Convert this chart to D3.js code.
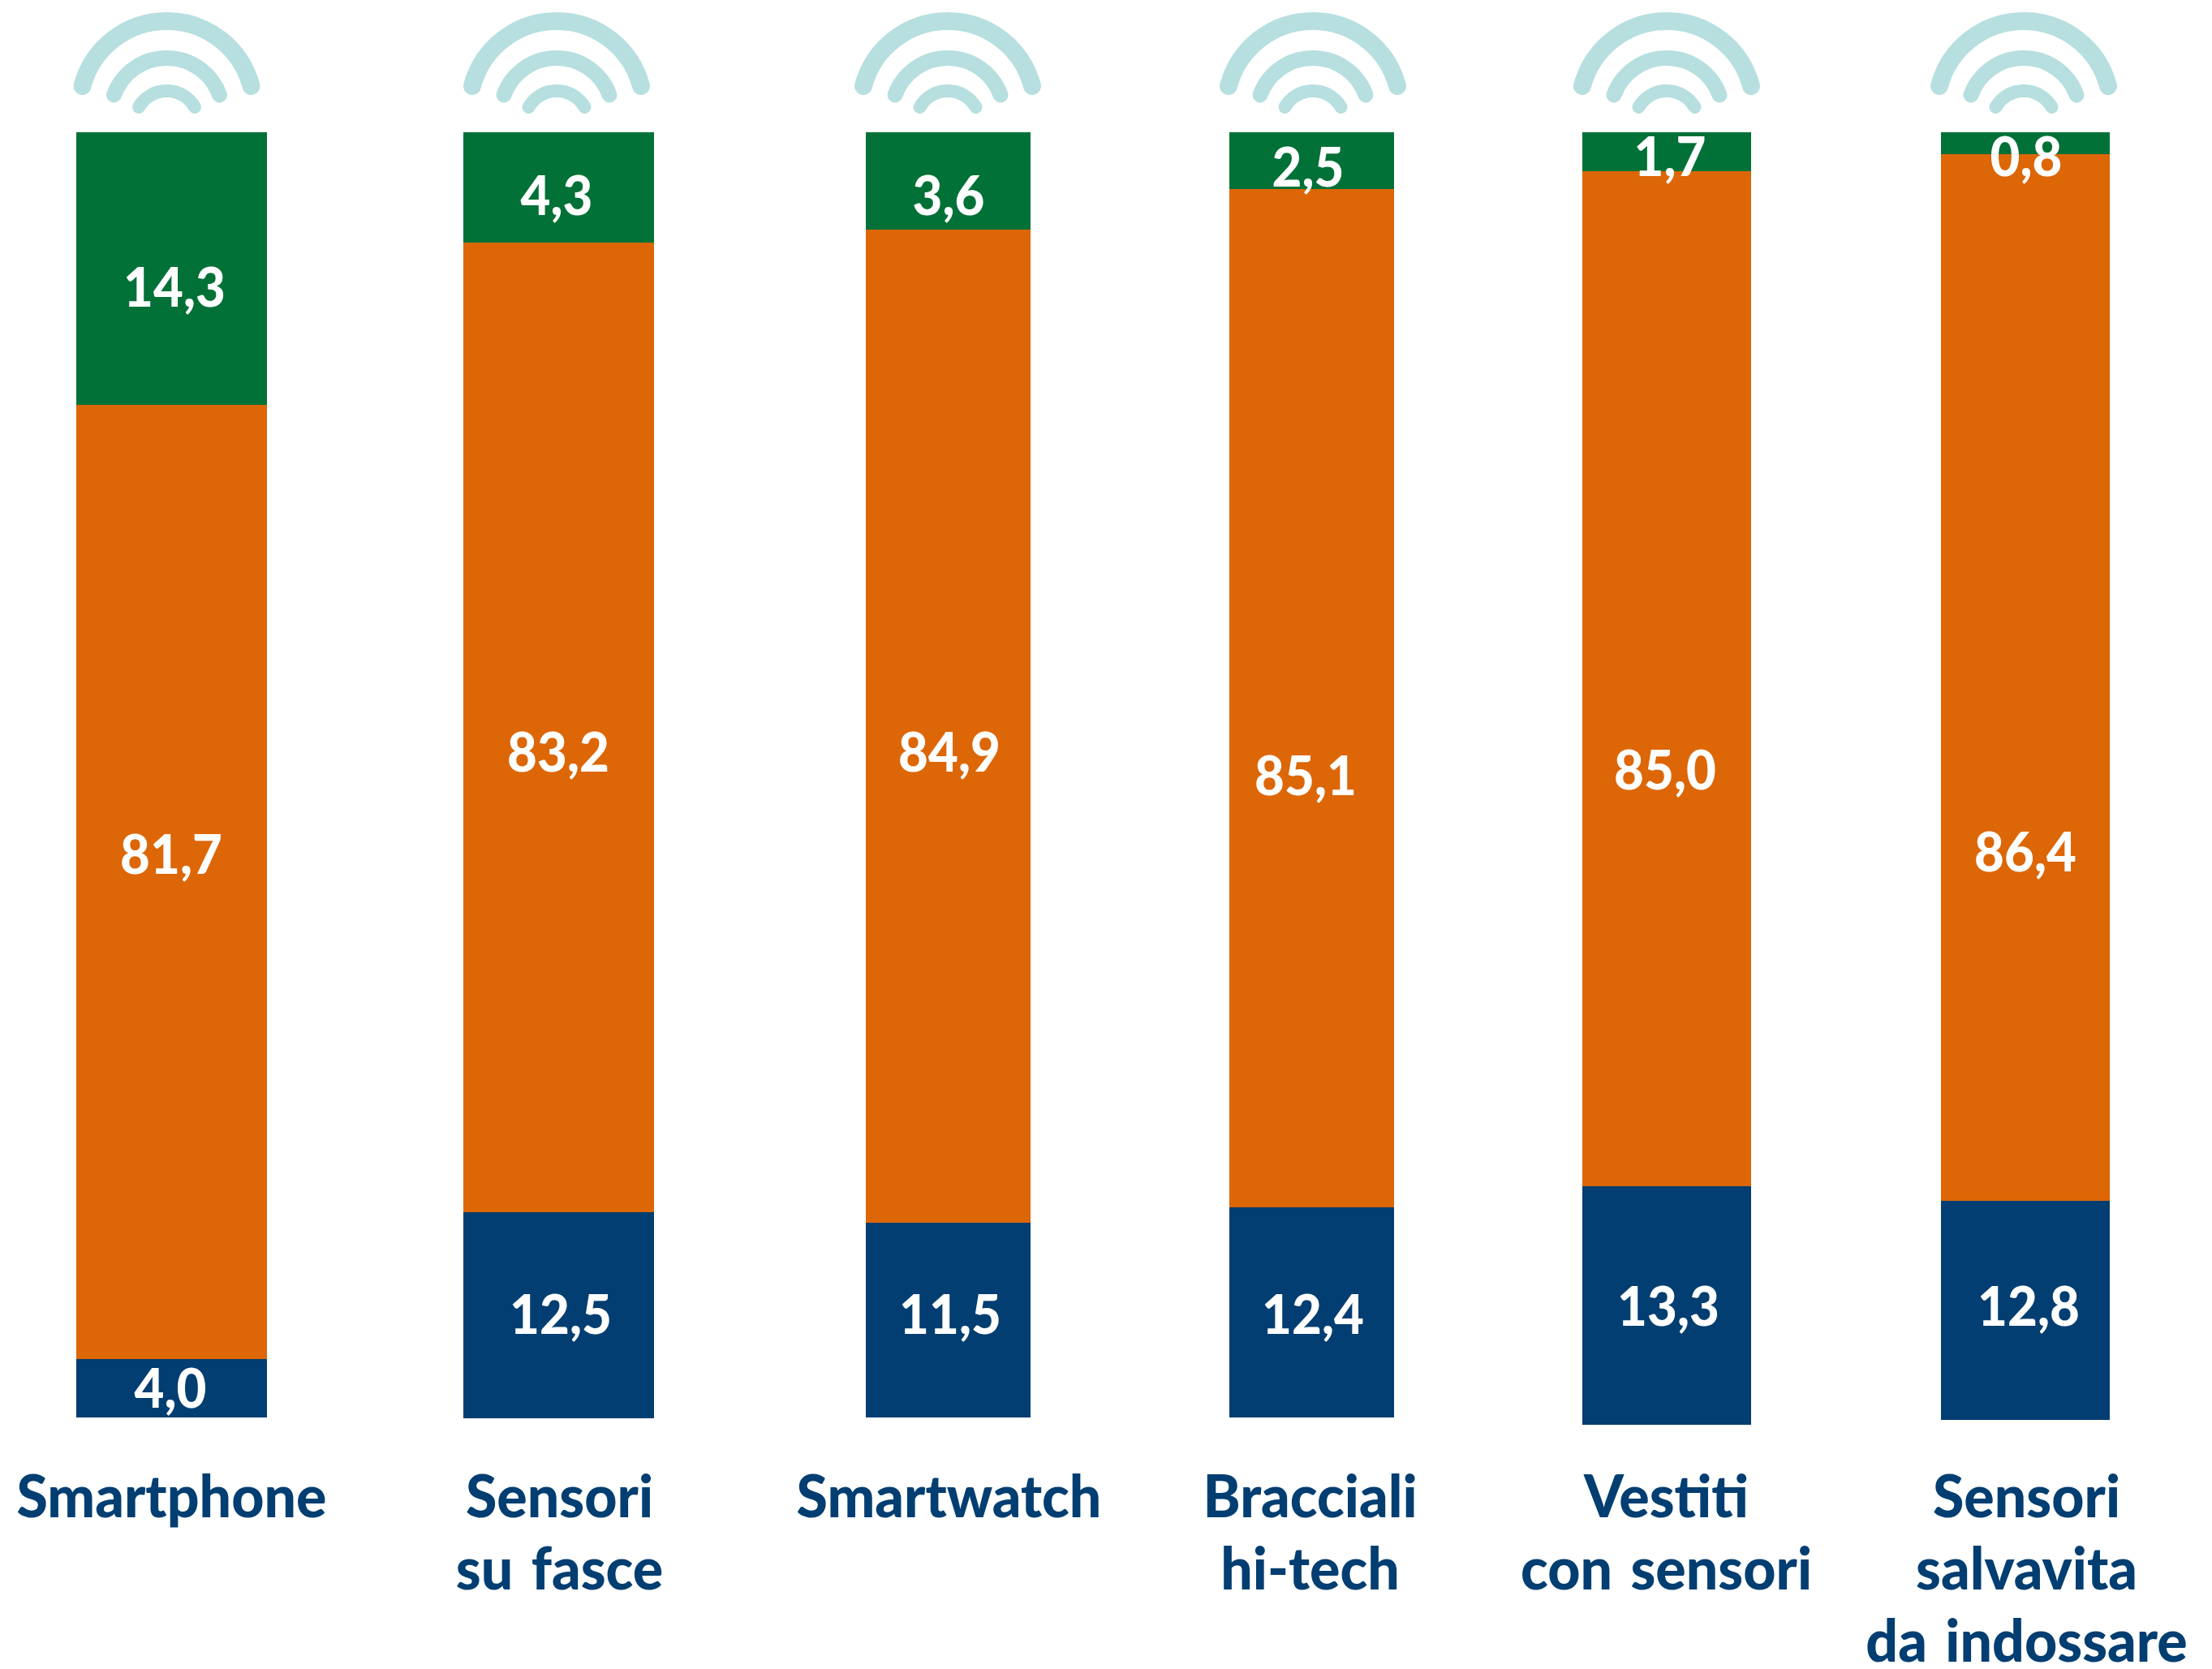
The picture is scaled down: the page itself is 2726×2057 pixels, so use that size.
<!DOCTYPE html>
<html>
<head>
<meta charset="utf-8">
<title>Dispositivi indossabili</title>
<script src="https://cdn.jsdelivr.net/npm/d3@7"></script>
<style>
  html, body { margin: 0; padding: 0; background: #fff; }
  svg { display: block; }
  text { font-family: Lato, "Open Sans", sans-serif; font-weight: 900; }
</style>
</head>
<body>
<div id="chart"></div>
<script>
const categories = ["Smartphone", "Sensori su fasce", "Smartwatch", "Bracciali hi-tech", "Vestiti con sensori", "Sensori salvavita da indossare"];
const categoryLines = [["Smartphone"], ["Sensori", "su fasce"], ["Smartwatch"], ["Bracciali", "hi-tech"], ["Vestiti", "con sensori"], ["Sensori", "salvavita", "da indossare"]];

// printed values, top segment to bottom segment
const greenValues = [14.3, 4.3, 3.6, 2.5, 1.7, 0.8];
const orangeValues = [81.7, 83.2, 84.9, 85.1, 85.0, 86.4];
const blueValues = [4.0, 12.5, 11.5, 12.4, 13.3, 12.8];

// the reference does not draw its segments to scale: these are the lengths
// actually drawn, read off the picture as a share of the first bar
const greenDrawn = [21.21, 8.59, 7.58, 4.42, 3.03, 1.70];
const orangeDrawn = [74.24, 75.44, 77.27, 79.23, 78.98, 81.44];
const blueDrawn = [4.55, 16.04, 15.15, 16.35, 18.56, 17.05];

// layout
const width = 2726;
const height = 2057;
const barTop = 163;
const unitBarBottom = 1747;
const barLefts = [94, 571, 1067, 1515, 1950, 2392];
const barWidths = [235, 235, 203, 203, 208, 208];
const iconCenters = [205.5, 686, 1168, 1618, 2054, 2494];
const titleCenters = [211, 689, 1169, 1614, 2053, 2497];
const titleBaseline = 1870;
const titleLeading = 89;

const labelX = {
    green: [215, 686, 1169, 1612, 2058, 2497],
    orange: [211, 688, 1170, 1609, 2052, 2496],
    blue: [210, 691, 1171, 1618, 2056, 2500],
};
const labelY = {
    green: [378, 265, 265, 230, 217, 217],
    orange: [1077, 951, 951, 980, 973, 1074],
    blue: [1735, 1644, 1644, 1644, 1634, 1634],
};

const colors = { green: "#027137", orange: "#DD6607", blue: "#023E71" };
const iconColor = "#B7DFDF";
const formatValue = v => d3.format(".1f")(v).replace(".", ",");

const printed = { green: greenValues, orange: orangeValues, blue: blueValues };

const rows = categories.map((c, i) => ({
    category: c,
    green: greenDrawn[i],
    orange: orangeDrawn[i],
    blue: blueDrawn[i],
}));

const svg = d3.select("#chart").append("svg")
    .attr("width", width)
    .attr("height", height)
    .attr("viewBox", `0 0 ${width} ${height}`);

const x = d3.scaleOrdinal().domain(categories).range(barLefts);
const barWidth = d3.scaleOrdinal().domain(categories).range(barWidths);
const iconX = d3.scaleOrdinal().domain(categories).range(iconCenters);
const titleX = d3.scaleOrdinal().domain(categories).range(titleCenters);

// stack runs downward from the common top edge
const y = d3.scaleLinear().domain([0, 100]).range([barTop, unitBarBottom]);

const series = d3.stack().keys(["green", "orange", "blue"])(rows);

const groups = svg.selectAll(".series")
    .data(series)
    .enter()
    .append("g")
    .attr("class", "series")
    .attr("fill", d => colors[d.key]);

groups.selectAll("rect")
    .data(d => d)
    .enter()
    .append("rect")
    .attr("x", d => x(d.data.category))
    .attr("width", d => barWidth(d.data.category))
    .attr("y", d => y(d[0]))
    .attr("height", d => y(d[1]) - y(d[0]))
    .attr("shape-rendering", "crispEdges");

// value labels go on top of every bar, some of them overlap two segments
const labels = svg.append("g").attr("class", "values");
series.forEach(s => {
    labels.selectAll(".value-" + s.key)
        .data(categories)
        .enter()
        .append("text")
        .attr("class", "value-" + s.key)
        .attr("transform", (c, i) => `translate(${labelX[s.key][i]},${labelY[s.key][i]}) scale(0.95,1)`)
        .attr("text-anchor", "middle")
        .attr("font-size", 67)
        .attr("fill", "#fff")
        .text((c, i) => formatValue(printed[s.key][i]));
});

// wireless icons above the bars
const waves = [
    { top: 26, halfChord: 104, sagitta: 80, stroke: 22 },
    { top: 71.5, halfChord: 65, sagitta: 45.5, stroke: 19 },
    { top: 112, halfChord: 34.5, sagitta: 20, stroke: 16 },
];

function wavePath(cx, w) {
    const r = (w.halfChord * w.halfChord + w.sagitta * w.sagitta) / (2 * w.sagitta);
    const a = Math.asin(w.halfChord / r);
    const p = d3.path();
    p.arc(cx, w.top + r, r, -Math.PI / 2 - a, -Math.PI / 2 + a);
    return p.toString();
}

const icons = svg.selectAll(".icon")
    .data(categories)
    .enter()
    .append("g")
    .attr("class", "icon");

icons.selectAll("path")
    .data(c => waves.map(w => ({ c, w })))
    .enter()
    .append("path")
    .attr("d", d => wavePath(iconX(d.c), d.w))
    .attr("fill", "none")
    .attr("stroke", iconColor)
    .attr("stroke-width", d => d.w.stroke)
    .attr("stroke-linecap", "round");

// category names
const xAxis = d3.axisBottom(titleX).tickSize(0);

const axisG = svg.append("g")
    .attr("class", "x axis")
    .attr("transform", `translate(0,${titleBaseline})`)
    .call(xAxis);

axisG.select(".domain").remove();

axisG.selectAll(".tick text")
    .attr("y", 0)
    .attr("dy", null)
    .attr("font-size", 72)
    .attr("fill", colors.blue)
    .attr("transform", "scale(0.97,1)")
    .attr("word-spacing", 6)
    .each(function(c) {
        const lines = categoryLines[categories.indexOf(c)];
        d3.select(this).text(null)
            .selectAll("tspan")
            .data(lines)
            .enter()
            .append("tspan")
            .attr("x", 0)
            .attr("y", (l, i) => i * titleLeading)
            .text(l => l);
    });
</script>
</body>
</html>
